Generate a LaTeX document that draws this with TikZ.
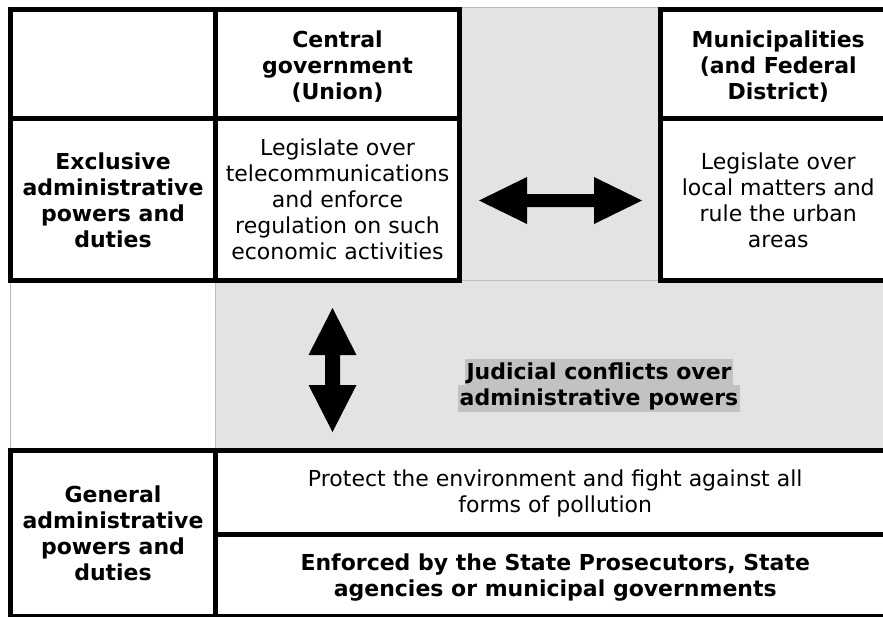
\documentclass[tikz,border=0pt]{standalone}
\usepackage{fontspec}
\setmainfont{DejaVu Sans}
\begin{document}
\begin{tikzpicture}[x=1pt,y=-1pt,
  cell/.style={draw=black, line width=5pt, rectangle, inner sep=0pt},
  body/.style={align=center, inner sep=0pt, font=\fontsize{22}{26}\selectfont},
  headline/.style={body, font=\fontsize{22}{26}\selectfont\bfseries},
  shade/.style={fill=black!11},
  gridline/.style={draw=black!26, line width=0.9pt},
  marked/.style={fill=black!24, inner xsep=2pt, inner ysep=0pt,
    text height=21pt, text depth=6pt, anchor=base,
    font=\fontsize{22}{26}\selectfont\bfseries},
  blockarrow/.style={fill=black}
]
\useasboundingbox (0,0) rectangle (883,616);
\fill[white] (0,0) rectangle (883,616);
\clip (0,0) rectangle (883,616);

% shaded gap between the two upper tables and the band below them
\fill[shade] (459.5,7) rectangle (660.5,282);
\fill[shade] (215.5,282) rectangle (900,450);
\draw[gridline] (459.5,7) -- (660.5,7);
\draw[gridline] (459.5,280) -- (660.5,280);
\draw[gridline] (10.7,280) -- (10.7,450);
\draw[gridline] (215.5,280) -- (215.5,450);

% upper left table: Union
\node[cell, minimum width=205pt, minimum height=108.5pt] (corner) at (113,63.75) {};
\node[cell, minimum width=244pt, minimum height=108.5pt] (union) at (337.5,63.75) {};
\node[cell, minimum width=205pt, minimum height=162.5pt] (exclusive) at (113,199.25) {};
\node[cell, minimum width=244pt, minimum height=162.5pt] (unionduty) at (337.5,199.25) {};
\node[headline] (uniontext) at ([yshift=-3pt]union.center)
  {Central\\government\\(Union)};
\node[headline] (exclusivetext) at ([yshift=-1pt]exclusive.center)
  {Exclusive\\administrative\\powers and\\duties};
\node[body] (uniondutytext) at ([yshift=-0.5pt]unionduty.center)
  {Legislate over\\telecommunications\\and enforce\\regulation on such\\economic activities};

% upper right table: municipalities
\node[cell, minimum width=235.5pt, minimum height=108.5pt] (muni) at (778.25,63.75) {};
\node[cell, minimum width=235.5pt, minimum height=162.5pt] (muniduty) at (778.25,199.25) {};
\node[headline] (munitext) at ([yshift=-3pt]muni.center)
  {Municipalities\\(and Federal\\District)};
\node[body] (munidutytext) at ([yshift=-1pt]muniduty.center)
  {Legislate over\\local matters and\\rule the urban\\areas};

% lower table: shared powers
\node[cell, minimum width=205pt, minimum height=165.5pt] (general) at (113,533.25) {};
\node[cell, minimum width=679.5pt, minimum height=83.5pt] (protect) at (555.25,492.25) {};
\node[cell, minimum width=679.5pt, minimum height=82pt] (enforce) at (555.25,575) {};
\node[headline] (generaltext) at ([yshift=-0.5pt]general.center)
  {General\\administrative\\powers and\\duties};
\node[body] (protecttext) at ([yshift=-1pt]protect.center)
  {Protect the environment and fight against all\\forms of pollution};
\node[headline] (enforcetext) at ([yshift=-3pt]enforce.center)
  {Enforced by the State Prosecutors, State\\agencies or municipal governments};

% label in the shaded band
\node[marked] (judicial1) at (599,379.5) {Judicial conflicts over};
\node[marked] (judicial2) at (599,405.5) {administrative powers};

% horizontal double arrow between the two upper tables
\fill[blockarrow] (479,200.5) -- (527,177) -- (527,194) -- (594,194) -- (594,177)
  -- (642,200.5) -- (594,224) -- (594,207) -- (527,207) -- (527,224) -- cycle;

% vertical double arrow between the upper and lower tables
\fill[blockarrow] (332.5,308) -- (356.5,355) -- (340,355) -- (340,385) -- (356.5,385)
  -- (332.5,432) -- (308.5,385) -- (325,385) -- (325,355) -- (308.5,355) -- cycle;
\end{tikzpicture}
\end{document}
